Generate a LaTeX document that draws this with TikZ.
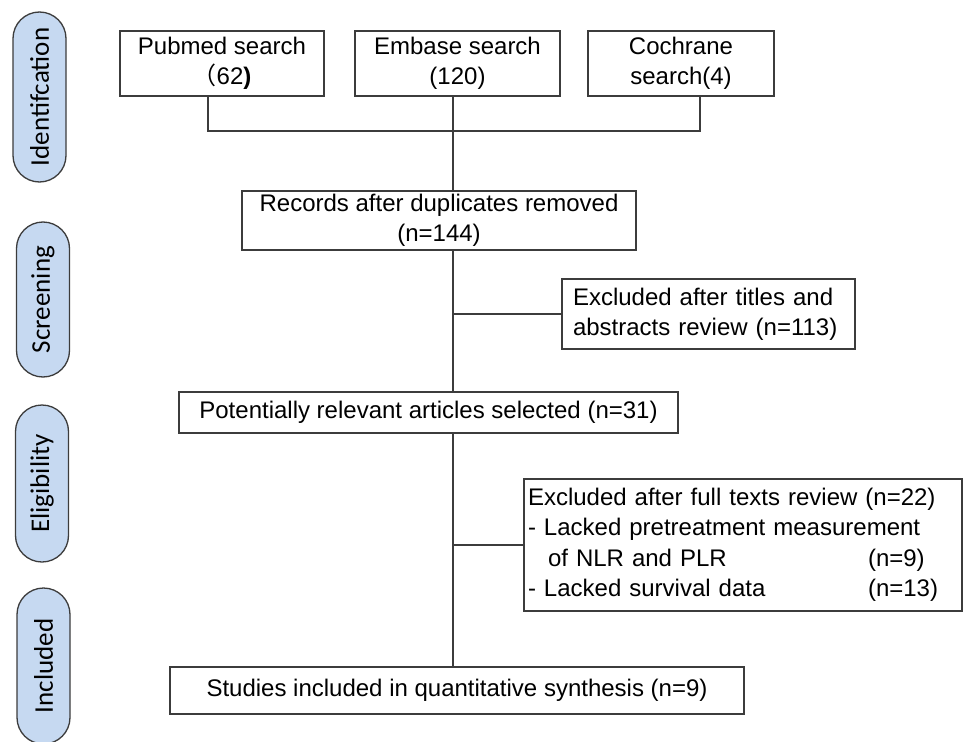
\documentclass[tikz,border=0pt]{standalone}
\usepackage{fontspec}
\setmainfont{Liberation Sans}
\newfontfamily\pillfont{Carlito}
\newfontfamily\cjk{Noto Sans CJK SC}
\usetikzlibrary{shapes.misc}
\definecolor{edge}{RGB}{60,60,60}
\definecolor{pill}{RGB}{198,217,241}

\begin{document}
\begin{tikzpicture}[x=1pt,y=-1pt,
  box/.style={draw=edge,line width=1.3pt,fill=white,align=center,inner sep=0pt,font=\fontsize{24}{30}\selectfont},
  stage/.style={rounded rectangle,draw=edge,line width=1.3pt,fill=pill,rotate=90,minimum height=53pt,inner sep=0pt,font=\pillfont\fontsize{27}{30}\selectfont},
  link/.style={draw=edge,line width=1.3pt}]
\useasboundingbox (0,0) rectangle (963,741);
\clip (0,0) rectangle (963,741);
% stage labels on the left
\node[stage,minimum width=170pt] (sid) at (39.5,97) {Identifcation};
\node[stage,minimum width=155pt] (sscr) at (43,299.5) {Screening};
\node[stage,minimum width=157pt] (selig) at (42,483.5) {Eligibility};
\node[stage,minimum width=156pt] (sincl) at (43.5,666) {Included};
% flow boxes
\node[box,minimum width=204pt,minimum height=65pt] (pubmed) at (222,63.5) {Pubmed search\\{\cjk （}62\textbf{)}};
\node[box,minimum width=205pt,minimum height=65pt] (embase) at (457.5,63.5) {Embase search\\(120)};
\node[box,minimum width=186pt,minimum height=65pt] (cochrane) at (681,63.5) {Cochrane\\search(4)};
\node[box,minimum width=394pt,minimum height=59pt] (records) at (439,220.5) {Records after duplicates removed\\(n=144)};
\node[box,align=left,text width=271pt,inner xsep=11pt,minimum height=70pt] (excl1) at (708.5,314) {Excluded after titles and\\abstracts review (n=113)};
\node[box,minimum width=499pt,minimum height=41pt] (relevant) at (428.5,412.5) {Potentially relevant articles selected (n=31)};
\node[box,align=left,text width=430pt,inner xsep=4pt,minimum height=132pt,font=\fontsize{24}{30.5}\selectfont] (excl2) at (743,545) {Excluded after full texts review (n=22)\\
- Lacked pretreatment measurement\\
\hspace*{20pt}\makebox[320pt][l]{of NLR and PLR}(n=9)\\
\makebox[340pt][l]{- Lacked survival data}(n=13)};
\node[box,minimum width=574pt,minimum height=47pt] (studies) at (457,690.5) {Studies included in quantitative synthesis (n=9)};
% connectors
\coordinate (trunk) at (453,0);
\coordinate (jl) at (208,131);
\coordinate (jr) at (700,131);
\draw[link] (pubmed.south -| jl) -- (jl) -- (jr) -- (cochrane.south -| jr);
\foreach \x/\y in {embase/records,records/relevant,relevant/studies} \draw[link] (\x.south -| trunk) -- (\y.north -| trunk);
\draw[link] (excl1.west -| trunk) -- (excl1.west);
\draw[link] (excl2.west -| trunk) -- (excl2.west);
\end{tikzpicture}
\end{document}
